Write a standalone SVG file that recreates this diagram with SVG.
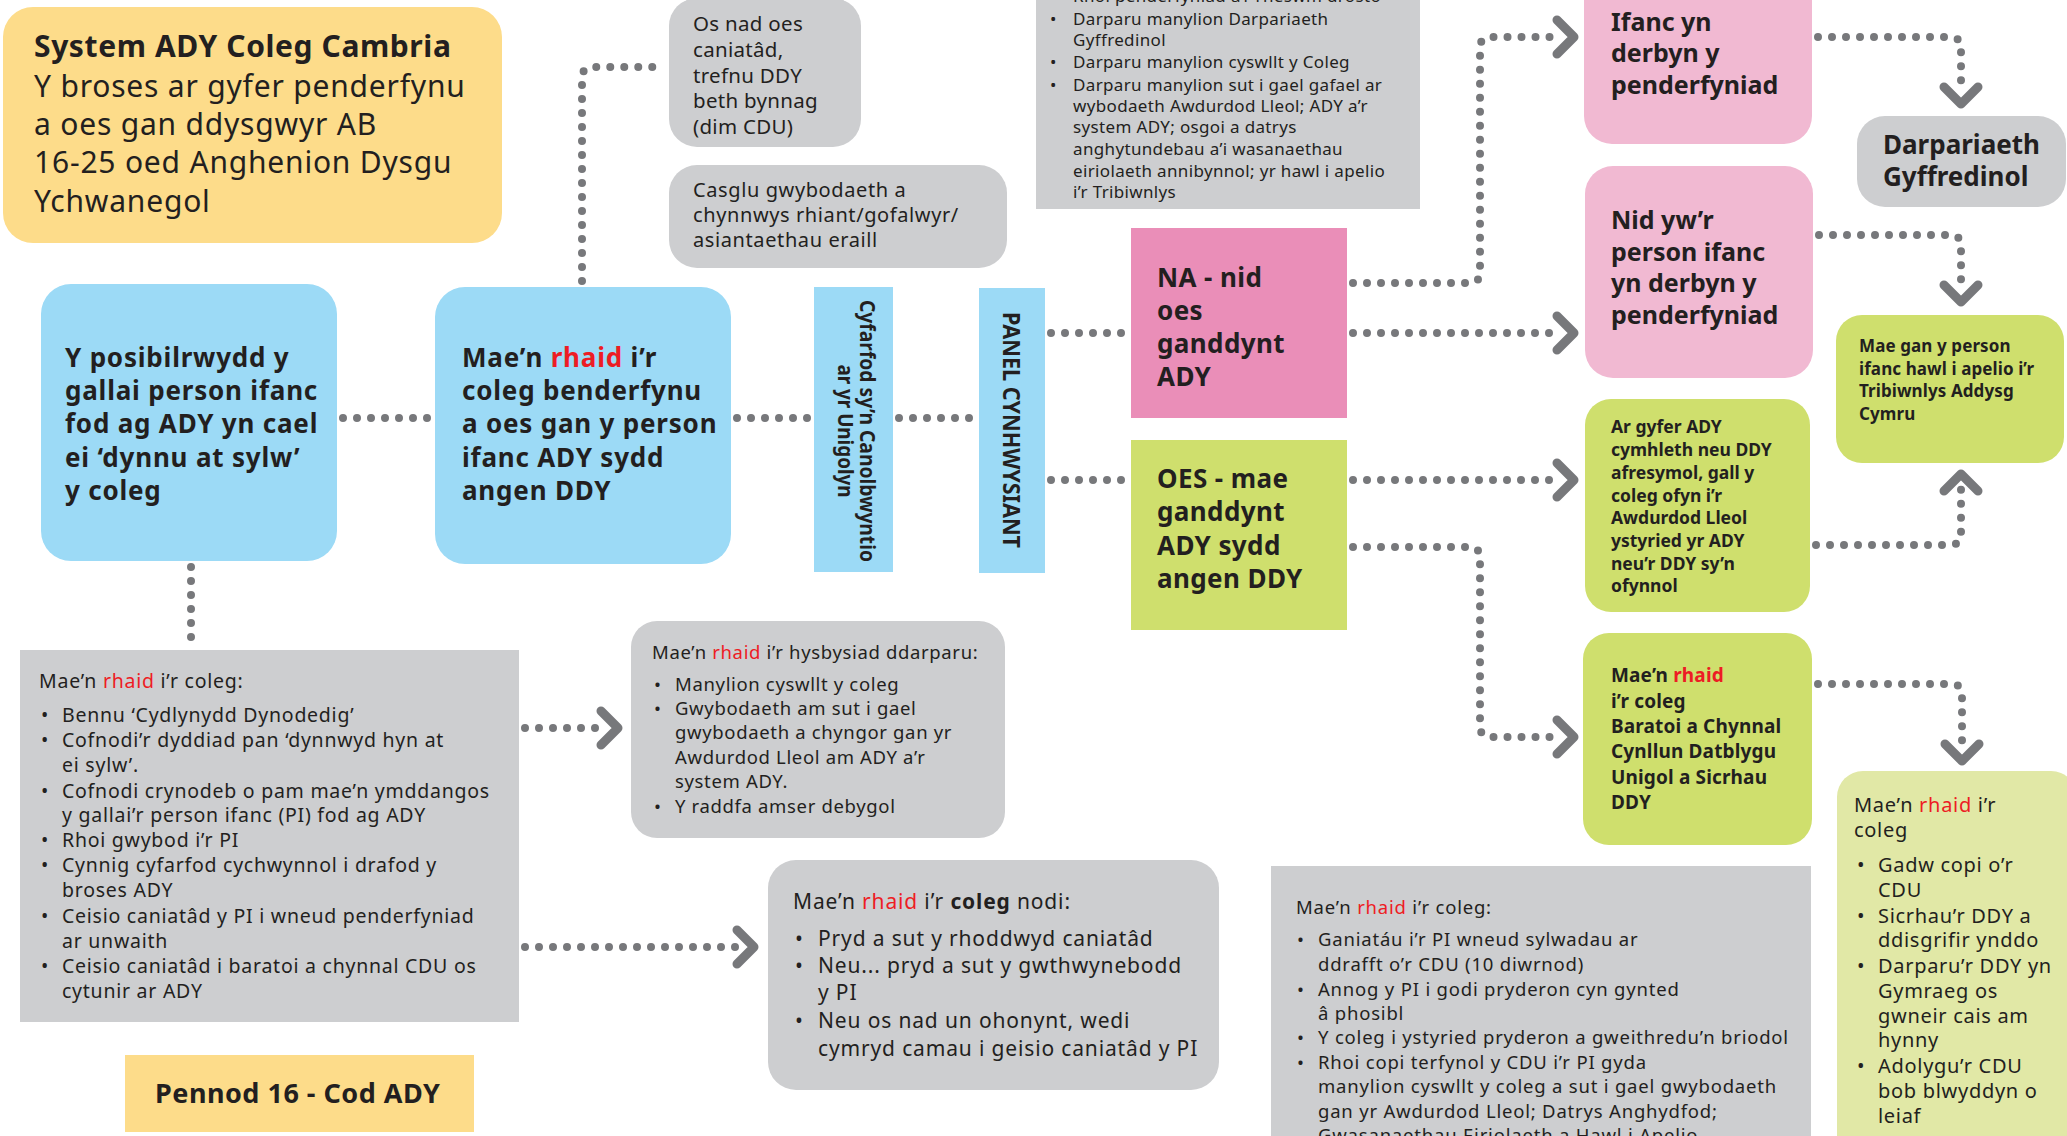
<svg xmlns="http://www.w3.org/2000/svg" width="2067" height="1136" viewBox="0 0 2067 1136">
<style>
text{font-family:"Noto Sans","Liberation Sans",sans-serif;fill:#231f20}
.b{font-weight:700}
.r{fill:#ed1c24}
.gray{fill:#cdced0}
.blue{fill:#9cdaf6}
.yel{fill:#fddc8a}
.pink{fill:#ea8eb8}
.lpink{fill:#f1b9d2}
.grn{fill:#cfdf6d}
.lgrn{fill:#e1e8a6}
.dot{fill:none;stroke:#77787b;stroke-width:8;stroke-linecap:round;stroke-dasharray:0 14}
.chev{fill:none;stroke:#77787b;stroke-width:9;stroke-linecap:round;stroke-linejoin:round}
</style>
<defs>
<path id="chev" class="chev" d="M-17,-17 L0,0 L-17,17"/>
</defs>
<rect width="2067" height="1136" fill="#fff"/>

<g id="connectors">
<path class="dot" d="M343 418 H430"/>
<path class="dot" d="M737 418 H810"/>
<path class="dot" d="M899 418 H975"/>
<path class="dot" d="M582 281 V78 Q582 67 593 67 H663"/>
<path class="dot" d="M191 567 V646"/>
<path class="dot" d="M1051 333 H1127"/>
<path class="dot" d="M1051 480 H1127"/>
<path class="dot" d="M1353 283 H1469 Q1480 283 1480 272 V48 Q1480 37 1491 37 H1562"/>
<use href="#chev" transform="translate(1574 37)"/>
<path class="dot" d="M1353 333 H1562"/>
<use href="#chev" transform="translate(1574 333)"/>
<path class="dot" d="M1353 480 H1562"/>
<use href="#chev" transform="translate(1574 480)"/>
<path class="dot" d="M1353 547 H1469 Q1480 547 1480 558 V726 Q1480 737 1491 737 H1562"/>
<use href="#chev" transform="translate(1574 737)"/>
<path class="dot" d="M1818 37 H1950 Q1961 37 1961 48 V92"/>
<use href="#chev" transform="translate(1961 104) rotate(90)"/>
<path class="dot" d="M1819 235 H1950 Q1961 235 1961 246 V290"/>
<use href="#chev" transform="translate(1961 302) rotate(90)"/>
<path class="dot" d="M1816 545 H1950 Q1961 545 1961 534 V486"/>
<use href="#chev" transform="translate(1961 474) rotate(-90)"/>
<path class="dot" d="M1818 684 H1951 Q1962 684 1962 695 V749"/>
<use href="#chev" transform="translate(1962 761) rotate(90)"/>
<path class="dot" d="M525 728 H605"/>
<use href="#chev" transform="translate(618 728)"/>
<path class="dot" d="M525 947 H742"/>
<use href="#chev" transform="translate(754 947)"/>
</g>

<g id="title">
<rect class="yel" x="3" y="7" width="499" height="236" rx="30"/>
<g font-size="30" letter-spacing="0.8">
<text class="b" x="34" y="57" letter-spacing="0.6">System ADY Coleg Cambria</text>
<text x="34" y="97">Y broses ar gyfer penderfynu</text>
<text x="34" y="135">a oes gan ddysgwyr AB</text>
<text x="34" y="173">16-25 oed Anghenion Dysgu</text>
<text x="34" y="212">Ychwanegol</text>
</g>
</g>

<g id="possibility">
<rect class="blue" x="41" y="284" width="296" height="277" rx="30"/>
<g font-size="26" letter-spacing="0.8">
<text class="b" x="65" y="367">Y posibilrwydd y</text>
<text class="b" x="65" y="400">gallai person ifanc</text>
<text class="b" x="65" y="433">fod ag ADY yn cael</text>
<text class="b" x="65" y="467">ei ‘dynnu at sylw’</text>
<text class="b" x="65" y="500">y coleg</text>
</g>
</g>

<g id="decide">
<rect class="blue" x="435" y="287" width="296" height="277" rx="30"/>
<g font-size="26" letter-spacing="0.8">
<text class="b" x="462" y="367">Mae’n <tspan class="r">rhaid</tspan> i’r</text>
<text class="b" x="462" y="400">coleg benderfynu</text>
<text class="b" x="462" y="433">a oes gan y person</text>
<text class="b" x="462" y="467">ifanc ADY sydd</text>
<text class="b" x="462" y="500">angen DDY</text>
</g>
</g>

<g id="pcp">
<rect class="blue" x="814" y="287" width="79" height="285"/>
<g transform="translate(860 431) rotate(90)" font-size="21">
<text class="b" x="0" y="0" text-anchor="middle" textLength="262" lengthAdjust="spacingAndGlyphs">Cyfarfod sy’n Canolbwyntio</text>
<text class="b" x="0" y="22" text-anchor="middle" textLength="133" lengthAdjust="spacingAndGlyphs">ar yr Unigolyn</text>
</g>
</g>

<g id="panel">
<rect class="blue" x="979" y="288" width="66" height="285"/>
<g transform="translate(1003 430) rotate(90)" font-size="23">
<text class="b" x="0" y="0" text-anchor="middle" textLength="236" lengthAdjust="spacingAndGlyphs">PANEL CYNHWYSIANT</text>
</g>
</g>

<g id="no-consent">
<rect class="gray" x="669" y="-2" width="192" height="149" rx="28"/>
<g font-size="20.5" letter-spacing="0.3">
<text x="693" y="31">Os nad oes</text>
<text x="693" y="57">caniatâd,</text>
<text x="693" y="83">trefnu DDY</text>
<text x="693" y="108">beth bynnag</text>
<text x="693" y="134">(dim CDU)</text>
</g>
</g>

<g id="gather">
<rect class="gray" x="669" y="165" width="338" height="103" rx="28"/>
<g font-size="20" letter-spacing="0.6">
<text x="693" y="197">Casglu gwybodaeth a</text>
<text x="693" y="222">chynnwys rhiant/gofalwyr/</text>
<text x="693" y="247">asiantaethau eraill</text>
</g>
</g>

<g id="decision-info">
<rect class="gray" x="1036" y="-10" width="384" height="219"/>
<g font-size="17" letter-spacing="0.35">
<text x="1050" y="2">•</text><text x="1073" y="2">Rhoi penderfyniad a’r rheswm drosto</text>
<text x="1050" y="25">•</text><text x="1073" y="25">Darparu manylion Darpariaeth</text>
<text x="1073" y="46">Gyffredinol</text>
<text x="1050" y="68">•</text><text x="1073" y="68">Darparu manylion cyswllt y Coleg</text>
<text x="1050" y="91">•</text><text x="1073" y="91">Darparu manylion sut i gael gafael ar</text>
<text x="1073" y="112">wybodaeth Awdurdod Lleol; ADY a’r</text>
<text x="1073" y="133">system ADY; osgoi a datrys</text>
<text x="1073" y="155">anghytundebau a’i wasanaethau</text>
<text x="1073" y="177">eiriolaeth annibynnol; yr hawl i apelio</text>
<text x="1073" y="198">i’r Tribiwnlys</text>
</g>
</g>

<g id="na">
<rect class="pink" x="1131" y="228" width="216" height="190"/>
<g font-size="26" letter-spacing="0.4">
<text class="b" x="1157" y="287">NA - nid</text>
<text class="b" x="1157" y="320">oes</text>
<text class="b" x="1157" y="353">ganddynt</text>
<text class="b" x="1157" y="386">ADY</text>
</g>
</g>

<g id="oes">
<rect class="grn" x="1131" y="440" width="216" height="190"/>
<g font-size="26" letter-spacing="0.4">
<text class="b" x="1157" y="488">OES - mae</text>
<text class="b" x="1157" y="521">ganddynt</text>
<text class="b" x="1157" y="555">ADY sydd</text>
<text class="b" x="1157" y="588">angen DDY</text>
</g>
</g>

<g id="accepts">
<rect class="lpink" x="1584" y="-30" width="228" height="174" rx="28"/>
<g font-size="25">
<text class="b" x="1611" y="31">Ifanc yn</text>
<text class="b" x="1611" y="62">derbyn y</text>
<text class="b" x="1611" y="94">penderfyniad</text>
</g>
</g>

<g id="not-accepts">
<rect class="lpink" x="1585" y="166" width="228" height="212" rx="28"/>
<g font-size="25">
<text class="b" x="1611" y="229">Nid yw’r</text>
<text class="b" x="1611" y="261">person ifanc</text>
<text class="b" x="1611" y="292">yn derbyn y</text>
<text class="b" x="1611" y="324">penderfyniad</text>
</g>
</g>

<g id="universal">
<rect class="gray" x="1857" y="116" width="209" height="91" rx="28"/>
<g font-size="26">
<text class="b" x="1883" y="154">Darpariaeth</text>
<text class="b" x="1883" y="186">Gyffredinol</text>
</g>
</g>

<g id="appeal">
<rect class="grn" x="1836" y="315" width="228" height="148" rx="26"/>
<g font-size="17" letter-spacing="0.1">
<text class="b" x="1859" y="352">Mae gan y person</text>
<text class="b" x="1859" y="375">ifanc hawl i apelio i’r</text>
<text class="b" x="1859" y="397">Tribiwnlys Addysg</text>
<text class="b" x="1859" y="420">Cymru</text>
</g>
</g>

<g id="complex">
<rect class="grn" x="1585" y="399" width="225" height="213" rx="26"/>
<g font-size="17.5">
<text class="b" x="1611" y="433">Ar gyfer ADY</text>
<text class="b" x="1611" y="456">cymhleth neu DDY</text>
<text class="b" x="1611" y="479">afresymol, gall y</text>
<text class="b" x="1611" y="502">coleg ofyn i’r</text>
<text class="b" x="1611" y="524">Awdurdod Lleol</text>
<text class="b" x="1611" y="547">ystyried yr ADY</text>
<text class="b" x="1611" y="570">neu’r DDY sy’n</text>
<text class="b" x="1611" y="592">ofynnol</text>
</g>
</g>

<g id="prepare-idp">
<rect class="grn" x="1583" y="633" width="229" height="212" rx="26"/>
<g font-size="19" letter-spacing="0.15">
<text class="b" x="1611" y="682">Mae’n <tspan class="r">rhaid</tspan></text>
<text class="b" x="1611" y="708">i’r coleg</text>
<text class="b" x="1611" y="733">Baratoi a Chynnal</text>
<text class="b" x="1611" y="758">Cynllun Datblygu</text>
<text class="b" x="1611" y="784">Unigol a Sicrhau</text>
<text class="b" x="1611" y="809">DDY</text>
</g>
</g>

<g id="keep-copy">
<rect class="lgrn" x="1837" y="771" width="240" height="400" rx="26"/>
<g font-size="20" letter-spacing="0.7">
<text x="1854" y="812">Mae’n <tspan class="r">rhaid</tspan> i’r</text>
<text x="1854" y="837">coleg</text>
<text x="1857" y="872">•</text><text x="1878" y="872">Gadw copi o’r</text>
<text x="1878" y="897">CDU</text>
<text x="1857" y="923">•</text><text x="1878" y="923">Sicrhau’r DDY a</text>
<text x="1878" y="947">ddisgrifir ynddo</text>
<text x="1857" y="973">•</text><text x="1878" y="973">Darparu’r DDY yn</text>
<text x="1878" y="998">Gymraeg os</text>
<text x="1878" y="1023">gwneir cais am</text>
<text x="1878" y="1047">hynny</text>
<text x="1857" y="1073">•</text><text x="1878" y="1073">Adolygu’r CDU</text>
<text x="1878" y="1098">bob blwyddyn o</text>
<text x="1878" y="1123">leiaf</text>
</g>
</g>

<g id="college-must">
<rect class="gray" x="20" y="650" width="499" height="372"/>
<g font-size="19.5" letter-spacing="0.75">
<text x="39" y="688">Mae’n <tspan class="r">rhaid</tspan> i’r coleg:</text>
<text x="41" y="722">•</text><text x="62" y="722">Bennu ‘Cydlynydd Dynodedig’</text>
<text x="41" y="747">•</text><text x="62" y="747">Cofnodi’r dyddiad pan ‘dynnwyd hyn at</text>
<text x="62" y="772">ei sylw’.</text>
<text x="41" y="798">•</text><text x="62" y="798">Cofnodi crynodeb o pam mae’n ymddangos</text>
<text x="62" y="822">y gallai’r person ifanc (PI) fod ag ADY</text>
<text x="41" y="847">•</text><text x="62" y="847">Rhoi gwybod i’r PI</text>
<text x="41" y="872">•</text><text x="62" y="872">Cynnig cyfarfod cychwynnol i drafod y</text>
<text x="62" y="897">broses ADY</text>
<text x="41" y="923">•</text><text x="62" y="923">Ceisio caniatâd y PI i wneud penderfyniad</text>
<text x="62" y="948">ar unwaith</text>
<text x="41" y="973">•</text><text x="62" y="973">Ceisio caniatâd i baratoi a chynnal CDU os</text>
<text x="62" y="998">cytunir ar ADY</text>
</g>
</g>

<g id="notice">
<rect class="gray" x="631" y="621" width="374" height="217" rx="26"/>
<g font-size="18.5" letter-spacing="0.65">
<text x="652" y="659">Mae’n <tspan class="r">rhaid</tspan> i’r hysbysiad ddarparu:</text>
<text x="654" y="691">•</text><text x="675" y="691">Manylion cyswllt y coleg</text>
<text x="654" y="715">•</text><text x="675" y="715">Gwybodaeth am sut i gael</text>
<text x="675" y="739">gwybodaeth a chyngor gan yr</text>
<text x="675" y="764">Awdurdod Lleol am ADY a’r</text>
<text x="675" y="788">system ADY.</text>
<text x="654" y="813">•</text><text x="675" y="813">Y raddfa amser debygol</text>
</g>
</g>

<g id="record">
<rect class="gray" x="768" y="860" width="451" height="230" rx="28"/>
<g font-size="21" letter-spacing="0.85">
<text x="793" y="909">Mae’n <tspan class="r">rhaid</tspan> i’r <tspan class="b">coleg</tspan> nodi:</text>
<text x="795" y="946">•</text><text x="818" y="946">Pryd a sut y rhoddwyd caniatâd</text>
<text x="795" y="973">•</text><text x="818" y="973">Neu... pryd a sut y gwthwynebodd</text>
<text x="818" y="1000">y PI</text>
<text x="795" y="1028">•</text><text x="818" y="1028">Neu os nad un ohonynt, wedi</text>
<text x="818" y="1056">cymryd camau i geisio caniatâd y PI</text>
</g>
</g>

<g id="draft">
<rect class="gray" x="1271" y="866" width="540" height="290"/>
<g font-size="18.5" letter-spacing="0.8">
<text x="1296" y="914">Mae’n <tspan class="r">rhaid</tspan> i’r coleg:</text>
<text x="1297" y="946">•</text><text x="1318" y="946">Ganiatáu i’r PI wneud sylwadau ar</text>
<text x="1318" y="971">ddrafft o’r CDU (10 diwrnod)</text>
<text x="1297" y="996">•</text><text x="1318" y="996">Annog y PI i godi pryderon cyn gynted</text>
<text x="1318" y="1020">â phosibl</text>
<text x="1297" y="1044">•</text><text x="1318" y="1044">Y coleg i ystyried pryderon a gweithredu’n briodol</text>
<text x="1297" y="1069">•</text><text x="1318" y="1069">Rhoi copi terfynol y CDU i’r PI gyda</text>
<text x="1318" y="1093">manylion cyswllt y coleg a sut i gael gwybodaeth</text>
<text x="1318" y="1118">gan yr Awdurdod Lleol; Datrys Anghydfod;</text>
<text x="1318" y="1142">Gwasanaethau Eiriolaeth a Hawl i Apelio</text>
</g>
</g>

<g id="chapter">
<rect class="yel" x="125" y="1055" width="349" height="77"/>
<text class="b" x="155" y="1103" font-size="27" letter-spacing="0.5">Pennod 16 - Cod ADY</text>
</g>
</svg>
